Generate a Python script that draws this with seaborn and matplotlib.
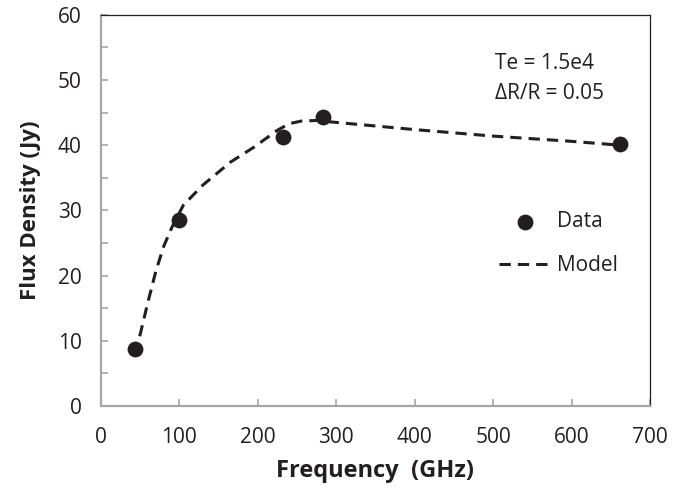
import numpy as np
import pandas as pd
import matplotlib
matplotlib.use('Agg')
import matplotlib.pyplot as plt
from matplotlib.ticker import MultipleLocator
import seaborn as sns

# Messpunkte
data_freq = [43, 100, 232, 283, 662]
data_flux = [8.7, 28.5, 41.2, 44.3, 40.2]

# Modellkurve
model_freq = [43, 50, 60, 70, 80, 90, 105, 130, 165, 195, 225, 240, 255, 275, 300, 400, 500, 600, 662]
model_flux = [8.0, 11.0, 16.0, 20.7, 24.5, 27.3, 30.8, 33.9, 37.4, 39.7, 42.3, 43.3, 43.7, 43.8, 43.5, 42.4, 41.4, 40.6, 40.0]

annot_lines = ['Te = 1.5e4', '\u0394R/R = 0.05']

sns.set_style('white')
plt.rcParams['font.family'] = ['Open Sans', 'DejaVu Sans']

ink = '#231f20'
grey = '#a6a6a6'
dash = [3.7, 2.3]

fig = plt.figure(figsize=(6.94, 4.94), dpi=100)
ax = fig.add_axes([0.1455, 0.178, 0.791, 0.792])

model_df = pd.DataFrame({'freq': model_freq, 'flux': model_flux})
data_df = pd.DataFrame({'freq': data_freq, 'flux': data_flux})

sns.lineplot(data=model_df, x='freq', y='flux', ax=ax, sort=False, color=ink, label='Model')
model_line = ax.lines[-1]
model_line.set_linewidth(2.2)
model_line.set_dashes(dash)

sns.scatterplot(data=data_df, x='freq', y='flux', ax=ax, color=ink, s=130,
                edgecolor=ink, linewidth=0, label='Data', zorder=3)

ax.set_xlim(0, 700)
ax.set_ylim(0, 60)
ax.xaxis.set_major_locator(MultipleLocator(100))
ax.yaxis.set_major_locator(MultipleLocator(10))
ax.yaxis.set_minor_locator(MultipleLocator(5))

for side in ['left', 'bottom']:
    ax.spines[side].set_color(grey)
    ax.spines[side].set_linewidth(1.6)
for side in ['top', 'right']:
    ax.spines[side].set_color(ink)
    ax.spines[side].set_linewidth(0.9)

ax.tick_params(axis='both', which='both', direction='in', length=5, width=1.2,
               color=grey, labelsize=15, labelcolor=ink)
ax.tick_params(axis='y', which='both', left=True, pad=14)
ax.tick_params(axis='x', bottom=True, pad=15)

ax.set_xlabel('Frequency  (GHz)', fontsize=17, fontweight='bold', color=ink, labelpad=8)
ax.set_ylabel('Flux Density (Jy)', fontsize=16, fontweight='bold', color=ink, labelpad=12)

ax.text(502, 52.6, annot_lines[0], fontsize=15, color=ink, va='center')
ax.text(502, 48.0, annot_lines[1], fontsize=15, color=ink, va='center')

handles, labels = ax.get_legend_handles_labels()
order = [labels.index('Data'), labels.index('Model')]
leg = ax.legend([handles[i] for i in order], [labels[i] for i in order],
                loc='center left', bbox_to_anchor=(0.69, 0.415), frameon=False,
                fontsize=15, handlelength=2.5, handletextpad=0.3, labelspacing=1.1,
                labelcolor=ink)
for h in leg.legend_handles:
    if h.__class__.__name__ == 'Line2D':
        h.set_linewidth(2.2)
        h.set_dashes(dash)

fig.savefig('out.png', dpi=100)
